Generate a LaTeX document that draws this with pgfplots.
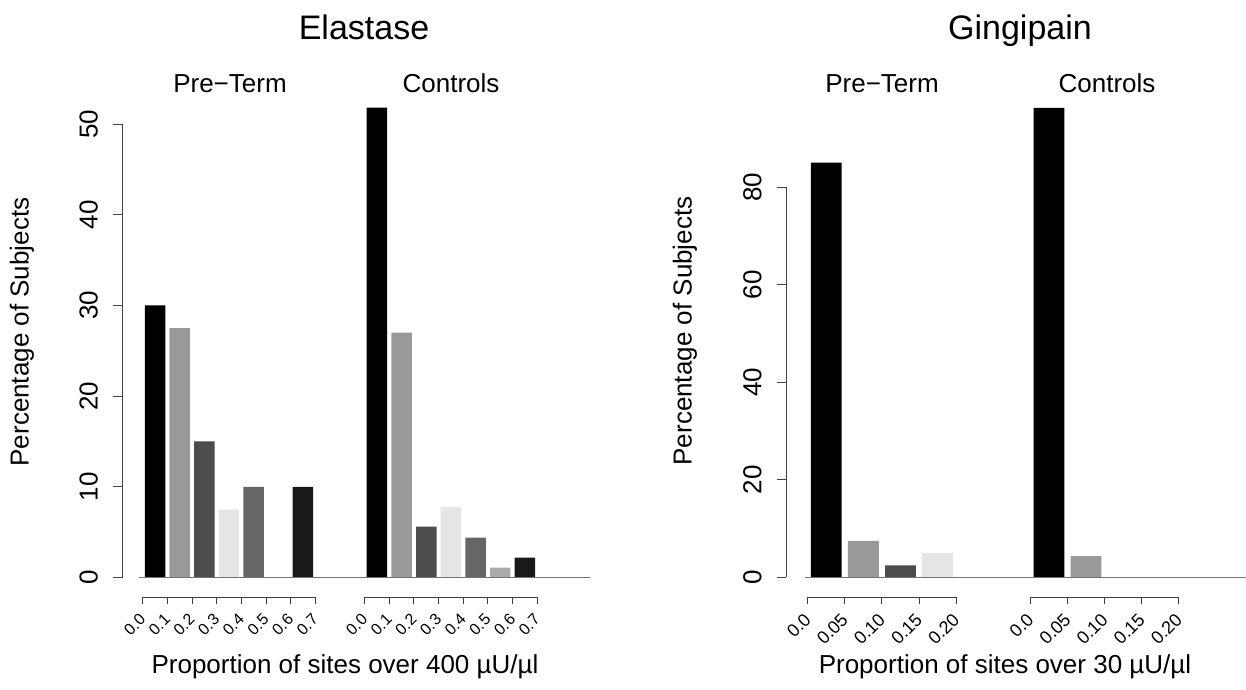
\documentclass[border=0pt]{standalone}
\usepackage{fontspec}
\setmainfont{Liberation Sans}
\usepackage{pgfplots}
\pgfplotsset{compat=1.18}

\definecolor{g1}{gray}{0}
\definecolor{g2}{gray}{0.6}
\definecolor{g3}{gray}{0.3}
\definecolor{g4}{gray}{0.9}
\definecolor{g5}{gray}{0.4}
\definecolor{g6}{gray}{0.67}
\definecolor{g7}{gray}{0.1}

\newcommand{\fs}[1]{\fontsize{#1}{#1}\selectfont}

\tikzset{
 axl/.style={black!75, line width=0.9pt},
 basel/.style={black!55, line width=1.3pt},
}

\begin{document}
\begin{tikzpicture}
\useasboundingbox (0pt,0pt) rectangle (1246pt,689pt);
\pgfplotsset{
 rstyle/.style={
  scale only axis, clip=false,
  axis x line*=bottom, axis y line*=left,
  axis line style={draw=none},
  tick align=outside,
  /pgf/number format/assume math mode=true,
  xtick style={black!75, line width=0.9pt, /pgfplots/major tick length=7pt},
  ytick style={black!75, line width=0.9pt, /pgfplots/major tick length=9pt},
  minor tick num=0,
  yticklabel style={rotate=90, anchor=south, inner sep=0pt, font=\fs{26}},
  yticklabel shift=20pt,
  xticklabel style={rotate=45, anchor=east, inner sep=0pt},
  xticklabel shift=15pt,
 },
 rbar/.style={ybar, bar width=0.83, bar shift=0pt, draw=none},
}

% ---------------- Elastase ----------------
\begin{axis}[rstyle, at={(122.3pt,91.7pt)}, anchor=south west,
  width=467.7pt, height=491.4pt,
  xmin=-0.827, xmax=18.14, ymin=-2.18, ymax=52,
  xtick={0,1,2,3,4,5,6,7,9,10,11,12,13,14,15,16},
  xticklabels={0.0,0.1,0.2,0.3,0.4,0.5,0.6,0.7,0.0,0.1,0.2,0.3,0.4,0.5,0.6,0.7},
  xticklabel style={font=\fs{16}},
  ytick={0,10,20,30,40,50}]
\addplot[rbar, fill=g1] coordinates {(0.5,30) (9.5,51.8)};
\addplot[rbar, fill=g2] coordinates {(1.5,27.5) (10.5,27.0)};
\addplot[rbar, fill=g3] coordinates {(2.5,15) (11.5,5.6)};
\addplot[rbar, fill=g4] coordinates {(3.5,7.5) (12.5,7.8)};
\addplot[rbar, fill=g5] coordinates {(4.5,10) (13.5,4.4)};
\addplot[rbar, fill=g6] coordinates {(5.5,0) (14.5,1.1)};
\addplot[rbar, fill=g7] coordinates {(6.5,10) (15.5,2.2)};
\draw[axl] (axis cs:-0.827,0) -- (axis cs:-0.827,50);
\draw[axl] (axis cs:0,-2.18) -- (axis cs:7,-2.18);
\draw[axl] (axis cs:9,-2.18) -- (axis cs:16,-2.18);
\draw[basel] (axis cs:-0.14,0) -- (axis cs:18.14,0);
\end{axis}

% ---------------- Gingipain ----------------
\begin{axis}[rstyle, at={(786pt,91.7pt)}, anchor=south west,
  width=460pt, height=507.9pt,
  xmin=-0.585, xmax=11.81, ymin=-4.06, ymax=100,
  xtick={0,1,2,3,4,6,7,8,9,10},
  xticklabels={0.0,0.05,0.10,0.15,0.20,0.0,0.05,0.10,0.15,0.20},
  xticklabel style={font=\fs{18}},
  ytick={0,20,40,60,80}]
\addplot[rbar, fill=g1] coordinates {(0.5,85) (6.5,96.2)};
\addplot[rbar, fill=g2] coordinates {(1.5,7.5) (7.5,4.4)};
\addplot[rbar, fill=g3] coordinates {(2.5,2.5) (8.5,0)};
\addplot[rbar, fill=g4] coordinates {(3.5,5.0) (9.5,0)};
\draw[axl] (axis cs:-0.585,0) -- (axis cs:-0.585,80);
\draw[axl] (axis cs:0,-4.06) -- (axis cs:4,-4.06);
\draw[axl] (axis cs:6,-4.06) -- (axis cs:10,-4.06);
\draw[basel] (axis cs:-0.07,0) -- (axis cs:11.81,0);
\end{axis}

% ---------------- texts ----------------
\node[anchor=base, inner sep=0pt, font=\fs{34}] at (364pt,649pt) {Elastase};
\node[anchor=base, inner sep=0pt, font=\fs{34}] at (1020pt,649pt) {Gingipain};
\node[anchor=base, inner sep=0pt, font=\fs{26}] at (230pt,596.7pt) {Pre−Term};
\node[anchor=base, inner sep=0pt, font=\fs{26}] at (451pt,596.7pt) {Controls};
\node[anchor=base, inner sep=0pt, font=\fs{26}] at (882pt,596.7pt) {Pre−Term};
\node[anchor=base, inner sep=0pt, font=\fs{26}] at (1107pt,596.7pt) {Controls};
\node[rotate=90, inner sep=0pt, font=\fs{26}] at (22pt,357pt) {Percentage of Subjects};
\node[rotate=90, inner sep=0pt, font=\fs{26}] at (685pt,358pt) {Percentage of Subjects};
\node[anchor=base, inner sep=0pt, font=\fs{26}] at (345pt,16pt) {Proportion of sites over 400 µU/µl};
\node[anchor=base, inner sep=0pt, font=\fs{26}] at (1005pt,16pt) {Proportion of sites over 30 µU/µl};
\end{tikzpicture}
\end{document}
